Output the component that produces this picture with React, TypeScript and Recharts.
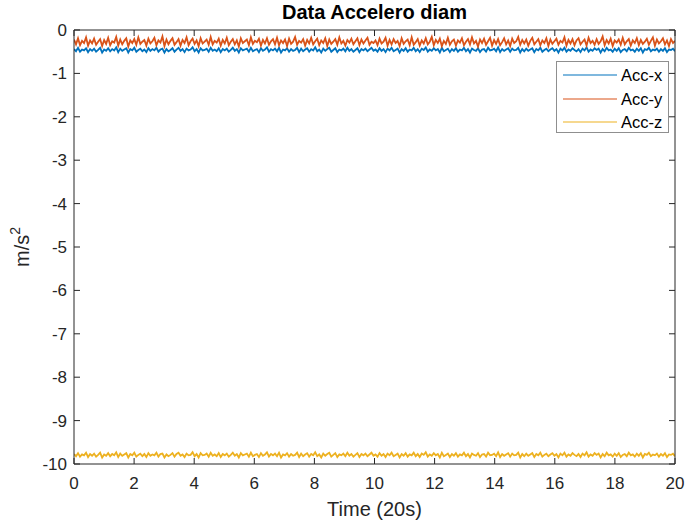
import React from 'react';
import { LineChart, Line, XAxis, YAxis, Legend, Label } from 'recharts';

// time axis ticks (s) and acceleration ticks (m/s^2)
const TIME_TICKS = [0, 2, 4, 6, 8, 10, 12, 14, 16, 18, 20];
const ACC_TICKS = [0, -1, -2, -3, -4, -5, -6, -7, -8, -9, -10];

// samples, evenly spaced over 20 s
const accX = [
  -0.44, -0.49, -0.41, -0.5, -0.45, -0.47, -0.42, -0.51, -0.44, -0.48,
  -0.43, -0.5, -0.46, -0.41, -0.52, -0.45, -0.48, -0.42, -0.49, -0.44,
  -0.47, -0.4, -0.51, -0.43, -0.48, -0.45, -0.42, -0.52, -0.44, -0.47,
  -0.41, -0.5, -0.46, -0.43, -0.49, -0.45, -0.51, -0.42, -0.48, -0.44,
  -0.47, -0.41, -0.5, -0.45, -0.43, -0.52, -0.44, -0.49, -0.46, -0.42,
  -0.5, -0.45, -0.41, -0.48, -0.44, -0.51, -0.43, -0.47, -0.45, -0.4,
  -0.49, -0.44, -0.52, -0.42, -0.47, -0.46, -0.43, -0.5, -0.41, -0.48,
  -0.45, -0.49, -0.42, -0.51, -0.44, -0.47, -0.43, -0.5, -0.46, -0.41,
  -0.48, -0.44, -0.52, -0.42, -0.47, -0.45, -0.43, -0.5, -0.41, -0.49,
  -0.46, -0.44, -0.51, -0.42, -0.48, -0.45, -0.4, -0.5, -0.44, -0.47,
  -0.43, -0.49, -0.41, -0.52, -0.45, -0.47, -0.42, -0.5, -0.44, -0.48,
  -0.46, -0.41, -0.51, -0.43, -0.49, -0.45, -0.42, -0.5, -0.44, -0.47,
  -0.4, -0.49, -0.45, -0.52, -0.43, -0.48, -0.44, -0.41, -0.5, -0.46,
  -0.42, -0.51, -0.45, -0.47, -0.43, -0.49, -0.41, -0.48, -0.44, -0.5,
  -0.46, -0.42, -0.51, -0.44, -0.47, -0.43, -0.49, -0.45, -0.41, -0.48,
  -0.45, -0.5, -0.42, -0.48, -0.44, -0.51, -0.43, -0.47, -0.41, -0.49,
  -0.46, -0.43, -0.52, -0.44, -0.48, -0.42, -0.5, -0.45, -0.47, -0.41,
  -0.49, -0.44, -0.51, -0.43, -0.46, -0.4, -0.5, -0.45, -0.48, -0.42,
  -0.47, -0.44, -0.52, -0.41, -0.49, -0.46, -0.43, -0.51, -0.44, -0.48,
  -0.42, -0.5, -0.45, -0.47, -0.41, -0.49, -0.44, -0.52, -0.43, -0.46,
  -0.48, -0.42, -0.51, -0.45, -0.44, -0.5, -0.41, -0.47, -0.46, -0.43,
  -0.49, -0.4, -0.51, -0.44, -0.48, -0.45, -0.42, -0.5, -0.43, -0.47,
  -0.46, -0.41, -0.52, -0.44, -0.49, -0.43, -0.48, -0.45, -0.42, -0.51,
  -0.44, -0.47, -0.41, -0.5, -0.46, -0.43, -0.49, -0.45, -0.42, -0.48,
  -0.44, -0.52, -0.43, -0.47, -0.41, -0.5, -0.45, -0.48, -0.42, -0.46,
  -0.49, -0.44, -0.51, -0.43, -0.47, -0.4, -0.5, -0.45, -0.48, -0.42,
  -0.46, -0.43, -0.52, -0.44, -0.49, -0.41, -0.47, -0.45, -0.5, -0.43,
  -0.48, -0.42, -0.51, -0.46, -0.44, -0.49, -0.41, -0.47, -0.45, -0.5,
  -0.43, -0.48, -0.42, -0.52, -0.44, -0.46, -0.41, -0.49, -0.45, -0.47,
  -0.43, -0.5, -0.44, -0.48, -0.42, -0.51, -0.45, -0.46, -0.43, -0.49,
];

const accY = [
  -0.22, -0.33, -0.19, -0.35, -0.25, -0.3, -0.17, -0.36, -0.24, -0.31,
  -0.2, -0.34, -0.27, -0.21, -0.37, -0.23, -0.32, -0.18, -0.35, -0.26,
  -0.29, -0.16, -0.36, -0.22, -0.33, -0.25, -0.19, -0.38, -0.24, -0.3,
  -0.21, -0.34, -0.17, -0.32, -0.27, -0.23, -0.36, -0.2, -0.31, -0.26,
  -0.18, -0.35, -0.24, -0.29, -0.15, -0.37, -0.22, -0.33, -0.25, -0.19,
  -0.34, -0.28, -0.21, -0.36, -0.23, -0.3, -0.17, -0.35, -0.26, -0.2,
  -0.32, -0.24, -0.37, -0.19, -0.31, -0.27, -0.22, -0.34, -0.16, -0.33,
  -0.25, -0.29, -0.2, -0.36, -0.23, -0.31, -0.18, -0.35, -0.27, -0.21,
  -0.33, -0.24, -0.38, -0.19, -0.3, -0.26, -0.22, -0.35, -0.17, -0.32,
  -0.25, -0.28, -0.2, -0.36, -0.23, -0.31, -0.19, -0.34, -0.26, -0.21,
  -0.33, -0.18, -0.35, -0.24, -0.3, -0.22, -0.37, -0.2, -0.32, -0.27,
  -0.16, -0.34, -0.25, -0.29, -0.21, -0.36, -0.23, -0.31, -0.18, -0.33,
  -0.26, -0.2, -0.35, -0.24, -0.3, -0.19, -0.37, -0.22, -0.32, -0.27,
  -0.21, -0.34, -0.17, -0.31, -0.25, -0.36, -0.23, -0.29, -0.2, -0.33,
  -0.26, -0.19, -0.35, -0.22, -0.31, -0.24, -0.18, -0.34, -0.27, -0.3,
  -0.24, -0.35, -0.2, -0.31, -0.27, -0.18, -0.36, -0.23, -0.33, -0.21,
  -0.3, -0.25, -0.37, -0.19, -0.32, -0.26, -0.22, -0.35, -0.17, -0.34,
  -0.28, -0.21, -0.36, -0.24, -0.31, -0.19, -0.33, -0.27, -0.16, -0.35,
  -0.23, -0.3, -0.2, -0.37, -0.25, -0.32, -0.18, -0.34, -0.26, -0.22,
  -0.36, -0.24, -0.29, -0.19, -0.35, -0.27, -0.21, -0.33, -0.17, -0.31,
  -0.25, -0.38, -0.22, -0.3, -0.2, -0.34, -0.26, -0.18, -0.36, -0.23,
  -0.32, -0.21, -0.35, -0.28, -0.19, -0.33, -0.24, -0.37, -0.2, -0.3,
  -0.26, -0.16, -0.34, -0.23, -0.31, -0.22, -0.36, -0.25, -0.18, -0.33,
  -0.27, -0.21, -0.35, -0.24, -0.3, -0.19, -0.37, -0.22, -0.32, -0.26,
  -0.2, -0.34, -0.25, -0.29, -0.17, -0.36, -0.23, -0.31, -0.21, -0.35,
  -0.24, -0.19, -0.33, -0.27, -0.22, -0.36, -0.18, -0.3, -0.25, -0.34,
  -0.21, -0.32, -0.26, -0.15, -0.35, -0.23, -0.31, -0.2, -0.37, -0.24,
  -0.29, -0.22, -0.34, -0.18, -0.33, -0.26, -0.21, -0.36, -0.24, -0.3,
  -0.19, -0.35, -0.23, -0.32, -0.27, -0.2, -0.34, -0.25, -0.17, -0.36,
  -0.22, -0.31, -0.26, -0.19, -0.33, -0.24, -0.37, -0.21, -0.3, -0.25,
];

const accZ = [
  -9.77, -9.82, -9.75, -9.83, -9.78, -9.8, -9.74, -9.84, -9.77, -9.81,
  -9.76, -9.83, -9.79, -9.74, -9.85, -9.78, -9.81, -9.75, -9.82, -9.77,
  -9.8, -9.73, -9.84, -9.76, -9.81, -9.78, -9.75, -9.85, -9.77, -9.8,
  -9.74, -9.83, -9.79, -9.76, -9.82, -9.77, -9.84, -9.75, -9.81, -9.78,
  -9.8, -9.74, -9.83, -9.77, -9.76, -9.85, -9.78, -9.82, -9.79, -9.75,
  -9.83, -9.77, -9.74, -9.81, -9.78, -9.84, -9.76, -9.8, -9.79, -9.73,
  -9.82, -9.77, -9.85, -9.75, -9.8, -9.79, -9.76, -9.83, -9.74, -9.81,
  -9.78, -9.82, -9.75, -9.84, -9.77, -9.8, -9.76, -9.83, -9.79, -9.74,
  -9.81, -9.77, -9.85, -9.75, -9.8, -9.78, -9.76, -9.83, -9.74, -9.82,
  -9.79, -9.77, -9.84, -9.75, -9.81, -9.78, -9.73, -9.83, -9.77, -9.8,
  -9.76, -9.82, -9.74, -9.85, -9.78, -9.8, -9.75, -9.83, -9.77, -9.81,
  -9.79, -9.74, -9.84, -9.76, -9.82, -9.78, -9.75, -9.83, -9.77, -9.8,
  -9.73, -9.82, -9.78, -9.85, -9.76, -9.81, -9.77, -9.74, -9.83, -9.79,
  -9.75, -9.84, -9.78, -9.8, -9.76, -9.82, -9.74, -9.81, -9.77, -9.83,
  -9.79, -9.75, -9.84, -9.77, -9.8, -9.76, -9.82, -9.78, -9.74, -9.81,
  -9.78, -9.83, -9.75, -9.81, -9.77, -9.84, -9.76, -9.8, -9.74, -9.82,
  -9.79, -9.76, -9.85, -9.77, -9.81, -9.75, -9.83, -9.78, -9.8, -9.74,
  -9.82, -9.77, -9.84, -9.76, -9.79, -9.73, -9.83, -9.78, -9.81, -9.75,
  -9.8, -9.77, -9.85, -9.74, -9.82, -9.79, -9.76, -9.84, -9.77, -9.81,
  -9.75, -9.83, -9.78, -9.8, -9.74, -9.82, -9.77, -9.85, -9.76, -9.79,
  -9.81, -9.75, -9.84, -9.78, -9.77, -9.83, -9.74, -9.8, -9.79, -9.76,
  -9.82, -9.73, -9.84, -9.77, -9.81, -9.78, -9.75, -9.83, -9.76, -9.8,
  -9.79, -9.74, -9.85, -9.77, -9.82, -9.76, -9.81, -9.78, -9.75, -9.84,
  -9.77, -9.8, -9.74, -9.83, -9.79, -9.76, -9.82, -9.78, -9.75, -9.81,
  -9.77, -9.85, -9.76, -9.8, -9.74, -9.83, -9.78, -9.81, -9.75, -9.79,
  -9.82, -9.77, -9.84, -9.76, -9.8, -9.73, -9.83, -9.78, -9.81, -9.75,
  -9.79, -9.76, -9.85, -9.77, -9.82, -9.74, -9.8, -9.78, -9.83, -9.76,
  -9.81, -9.75, -9.84, -9.79, -9.77, -9.82, -9.74, -9.8, -9.78, -9.83,
  -9.76, -9.81, -9.75, -9.85, -9.77, -9.79, -9.74, -9.82, -9.78, -9.8,
  -9.76, -9.83, -9.77, -9.81, -9.75, -9.84, -9.78, -9.79, -9.76, -9.82,
];

const DURATION = 20;

const data = accX.map((x, i) => ({
  t: (i * DURATION) / (accX.length - 1),
  accX: x,
  accY: accY[i],
  accZ: accZ[i],
}));

const FONT = '"Liberation Sans", Arial, Helvetica, sans-serif';
const TEXT = '#262626';
const AXIS = '#262626';

const tickStyle = { fontSize: 17, fill: TEXT, fontFamily: FONT };
const noLabel = () => '';

// MATLAB style legend box
const renderLegend = (props: any) => {
  const { payload = [] } = props;
  return (
    <div
      style={{
        width: 113,
        height: 72,
        boxSizing: 'border-box',
        border: '1px solid #8f8f8f',
        background: '#fff',
        position: 'relative',
        fontFamily: FONT,
      }}
    >
      {payload.map((entry: any, i: number) => (
        <div
          key={entry.value}
          style={{
            position: 'absolute',
            left: 6,
            top: 2 + i * 23.5,
            height: 22,
            display: 'flex',
            alignItems: 'center',
          }}
        >
          <svg width={54} height={4} style={{ display: 'block' }}>
            <line x1={0} y1={2} x2={54} y2={2} stroke={entry.color} strokeWidth={1.1} />
          </svg>
          <span style={{ marginLeft: 4, fontSize: 16.5, color: '#000', lineHeight: '22px' }}>
            {entry.value}
          </span>
        </div>
      ))}
    </div>
  );
};

const renderTitle = (props: any) => {
  const { viewBox } = props;
  return (
    <text
      x={viewBox.x + viewBox.width / 2}
      y={19}
      textAnchor="middle"
      fontSize={20}
      fontWeight="bold"
      fill="#000"
      fontFamily={FONT}
    >
      Data Accelero diam
    </text>
  );
};

const renderYLabel = (props: any) => {
  const { viewBox } = props;
  const cy = viewBox.y + viewBox.height / 2;
  return (
    <text
      transform={`translate(29, ${cy}) rotate(-90)`}
      textAnchor="middle"
      fontSize={20}
      fill={TEXT}
      fontFamily={FONT}
    >
      m/s
      <tspan dy={-9} fontSize={14}>
        2
      </tspan>
    </text>
  );
};

export default function App() {
  return (
    <div style={{ position: 'absolute', left: 0, top: 0, width: 687, height: 523, background: '#fff' }}>
      <LineChart width={687} height={523} data={data} margin={{ top: 0, right: 0, bottom: 0, left: 0 }}>
        <XAxis
          dataKey="t"
          type="number"
          domain={[0, 20]}
          ticks={TIME_TICKS}
          allowDataOverflow
          height={59}
          tickSize={-6}
          tickMargin={19}
          tick={tickStyle}
          stroke={AXIS}
        >
          <Label
            value="Time (20s)"
            position="insideBottom"
            offset={7}
            style={{ fontSize: 20, fill: TEXT, fontFamily: FONT }}
          />
        </XAxis>
        <XAxis
          xAxisId="top"
          orientation="top"
          dataKey="t"
          type="number"
          domain={[0, 20]}
          ticks={TIME_TICKS}
          allowDataOverflow
          height={30}
          tickSize={-6}
          tickFormatter={noLabel}
          stroke={AXIS}
        >
          <Label content={renderTitle} />
        </XAxis>
        <YAxis
          type="number"
          domain={[-10, 0]}
          ticks={ACC_TICKS}
          allowDataOverflow
          width={74}
          tickSize={-6}
          tickMargin={13}
          tick={tickStyle}
          stroke={AXIS}
        >
          <Label content={renderYLabel} />
        </YAxis>
        <YAxis
          yAxisId="right"
          orientation="right"
          type="number"
          domain={[-10, 0]}
          ticks={ACC_TICKS}
          allowDataOverflow
          width={12}
          tickSize={-6}
          tickFormatter={noLabel}
          stroke={AXIS}
        />
        <Legend
          content={renderLegend}
          layout="horizontal"
          align="center"
          verticalAlign="middle"
          wrapperStyle={{ position: 'absolute', left: 556, top: 61, width: 113, height: 72 }}
        />
        <Line
          name="Acc-x"
          dataKey="accX"
          type="linear"
          stroke="#0072BD"
          strokeWidth={1.8}
          dot={false}
          isAnimationActive={false}
        />
        <Line
          name="Acc-y"
          dataKey="accY"
          type="linear"
          stroke="#D95319"
          strokeWidth={1.8}
          dot={false}
          isAnimationActive={false}
        />
        <Line
          name="Acc-z"
          dataKey="accZ"
          type="linear"
          stroke="#EDB120"
          strokeWidth={1.8}
          dot={false}
          isAnimationActive={false}
        />
      </LineChart>
    </div>
  );
}
